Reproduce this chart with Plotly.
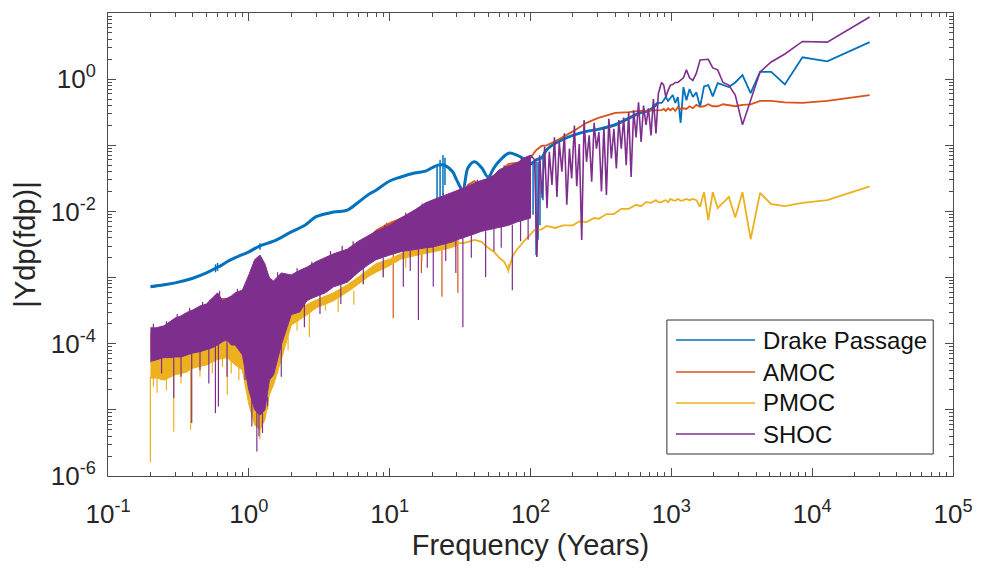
import numpy as np
import plotly.graph_objects as go

BLUE = "#0072BD"
ORANGE = "#D95319"
YELLOW = "#EDB120"
PURPLE = "#7E2F8E"

# ---------------------------------------------------------------------------
# Spectra: periods in years, amplitudes stored as log10 |Ydp(fdp)|
# ---------------------------------------------------------------------------

# Long-period harmonics (25600/k years, k = 30 ... 1)
harmonic_freq = [853, 883, 914, 948, 985, 1024, 1067, 1113, 1164, 1219, 1280, 1347,
                 1422, 1506, 1600, 1707, 1829, 1969, 2133, 2327, 2560, 2844, 3200,
                 3657, 4267, 5120, 6400, 8533, 12800, 25600]

# Drake Passage
drake_freq = [0.2, 0.25, 0.3, 0.4, 0.5, 0.58, 0.6, 0.62, 0.7, 0.8, 1.0, 1.2, 1.5, 2,
              2.5, 3, 4, 5, 6, 7, 8, 10, 12, 15, 18, 20, 22, 25, 28, 30, 33, 36, 40,
              45, 50, 55, 60, 70, 80, 90, 100, 110, 120, 130, 150, 170, 200, 250,
              300, 400, 500, 600, 700, 800]
drake_log = [-3.14, -3.11, -3.08, -3.01, -2.93, -2.86, -2.84, -2.83, -2.76, -2.70,
             -2.61, -2.52, -2.45, -2.31, -2.21, -2.08, -2.01, -1.98, -1.86, -1.75,
             -1.68, -1.54, -1.48, -1.42, -1.39, -1.34, -1.30, -1.31, -1.40, -1.53,
             -1.68, -1.34, -1.25, -1.34, -1.48, -1.34, -1.24, -1.12, -1.15, -1.21,
             -1.28, -1.22, -1.19, -1.07, -0.97, -0.91, -0.85, -0.79, -0.76, -0.69,
             -0.59, -0.51, -0.47, -0.36]
drake_harm_log = [-0.36, -0.32, -0.27, -0.33, -0.29, -0.24, -0.36, -0.27, -0.66, -0.12,
                  -0.32, -0.15, -0.27, -0.20, -0.42, -0.11, -0.09, -0.26, -0.06, -0.09,
                  -0.12, -0.05, 0.06, -0.21, 0.11, 0.11, -0.08, 0.33, 0.27, 0.56]
drake_spike_freq = [0.58, 0.6, 1.2, 21.7, 22.8, 23.9, 24.7, 104.3, 109.5, 113.1, 116.8, 122.7]
drake_spike_top = [-2.80, -2.78, -2.48, -1.30, -1.22, -1.15, -1.19, -1.25, -1.25, -1.25, -1.22, -1.19]
drake_spike_bot = [-2.92, -2.90, -2.58, -1.83, -1.87, -1.75, -1.60, -2.05, -2.66, -2.43, -2.21, -1.83]

# AMOC: dense band at short periods, single curve beyond 30 years
amoc_band_freq = [0.2, 0.3, 0.4, 0.5, 0.6, 0.8, 1.0, 1.2, 1.5, 2, 3, 4, 5, 6, 7, 8,
                  10, 12, 15, 20, 25, 30]
amoc_band_hi = [-3.84, -3.67, -3.55, -3.46, -3.32, -3.31, -3.11, -2.76, -3.11, -3.04,
                -2.84, -2.70, -2.63, -2.49, -2.40, -2.28, -2.17, -2.10, -2.02, -1.90,
                -1.86, -1.78]
amoc_band_lo = [-4.21, -4.15, -4.09, -4.05, -3.97, -3.97, -4.55, -4.92, -4.43, -3.52,
                -3.26, -3.11, -3.04, -2.89, -2.78, -2.70, -2.63, -2.58, -2.55, -2.51,
                -2.46, -2.40]
amoc_freq = [30, 33, 36, 40, 45, 50, 55, 60, 70, 80, 90, 100, 110, 120, 130, 150, 170,
             200, 250, 300, 400, 500, 600, 700, 800]
amoc_log = [-1.78, -1.75, -1.60, -1.54, -1.62, -1.63, -1.53, -1.40, -1.28, -1.27, -1.25,
            -1.19, -1.07, -1.01, -1.00, -0.94, -0.88, -0.79, -0.66, -0.59, -0.51, -0.50,
            -0.48, -0.48, -0.47]
amoc_harm_log = [-0.47, -0.45, -0.48, -0.44, -0.47, -0.44, -0.48, -0.42, -0.45, -0.44,
                 -0.45, -0.41, -0.44, -0.39, -0.42, -0.41, -0.38, -0.41, -0.41, -0.38,
                 -0.39, -0.41, -0.39, -0.38, -0.33, -0.33, -0.35, -0.36, -0.33, -0.24]
amoc_spike_freq = [9.5, 10.6, 16.8, 23.5, 30.5]
amoc_spike_top = [-2.17, -2.60, -2.50, -2.45, -2.40]
amoc_spike_bot = [-2.40, -3.61, -2.93, -3.29, -3.23]

# PMOC
pmoc_band_freq = [0.2, 0.22, 0.25, 0.3, 0.36, 0.4, 0.5, 0.6, 0.7, 0.8, 0.9, 1.0, 1.1,
                  1.2, 1.3, 1.4, 1.5, 1.7, 2, 2.3, 2.6, 3, 4, 5, 6, 7, 8, 10, 12, 15,
                  18, 20, 25, 30]
pmoc_band_hi = [-4.18, -4.17, -4.15, -4.12, -4.09, -4.05, -4.00, -3.94, -3.90, -3.94,
                -4.09, -4.62, -4.92, -5.00, -4.85, -4.47, -4.32, -3.97, -3.52, -3.46,
                -3.40, -3.34, -3.23, -3.11, -2.99, -2.89, -2.79, -2.72, -2.64, -2.57,
                -2.52, -2.51, -2.48, -2.43]
pmoc_band_lo = [-4.52, -4.52, -4.55, -4.47, -4.43, -4.37, -4.32, -4.24, -4.21, -4.32,
                -4.40, -4.92, -5.23, -5.30, -5.15, -4.77, -4.62, -4.24, -3.72, -3.64,
                -3.56, -3.46, -3.35, -3.22, -3.10, -2.99, -2.92, -2.82, -2.72, -2.67,
                -2.63, -2.61, -2.57, -2.52]
pmoc_freq = [30, 33, 36, 40, 45, 50, 55, 60, 65, 69.6, 75, 80, 90, 100, 107, 120, 130,
             150, 170, 200, 222, 250, 283, 306, 346, 391, 441, 498, 562, 610, 661, 717,
             778, 809]
pmoc_log = [-2.48, -2.48, -2.46, -2.43, -2.46, -2.55, -2.61, -2.70, -2.76, -2.89, -2.67,
            -2.58, -2.45, -2.34, -2.28, -2.27, -2.22, -2.25, -2.21, -2.21, -2.15, -2.16,
            -2.10, -2.11, -2.04, -2.04, -1.96, -1.96, -1.90, -1.92, -1.86, -1.87, -1.83,
            -1.86]
pmoc_harm_log = [-1.86, -1.84, -1.83, -1.86, -1.81, -1.83, -1.84, -1.81, -1.84, -1.83,
                 -1.81, -1.83, -1.81, -1.83, -1.93, -1.71, -2.13, -1.71, -1.95, -1.87,
                 -1.78, -2.09, -1.71, -2.42, -1.72, -1.89, -1.92, -1.87, -1.83, -1.62]
pmoc_spike_freq = [0.2, 0.21, 0.223, 0.26, 0.293, 0.33, 0.386, 0.45, 0.55, 0.65, 0.703,
                   0.75, 0.85, 1.2, 1.36, 1.6, 1.9, 2.2, 2.69, 3.5, 4.31, 5.57, 6.5, 9,
                   13, 17, 69.6]
pmoc_spike_top = [-4.50, -4.45, -4.50, -4.50, -4.50, -4.40, -4.40, -4.30, -4.20, -4.15,
                  -4.20, -4.20, -4.30, -5.20, -4.90, -4.20, -3.90, -3.60, -3.50, -3.35,
                  -3.30, -3.20, -2.95, -2.85, -2.70, -2.62, -2.80]
pmoc_spike_bot = [-5.79, -4.65, -4.74, -4.70, -5.33, -4.60, -5.30, -4.50, -4.45, -4.35,
                  -4.77, -4.45, -4.55, -5.45, -5.00, -4.45, -4.10, -3.80, -3.90, -3.50,
                  -3.52, -3.41, -3.10, -2.98, -2.85, -2.75, -2.93]

# SHOC
shoc_band_freq = [0.2, 0.22, 0.25, 0.28, 0.3, 0.33, 0.36, 0.4, 0.45, 0.5, 0.55, 0.6,
                  0.65, 0.7, 0.75, 0.8, 0.9, 1.0, 1.1, 1.2, 1.3, 1.4, 1.5, 1.7, 2, 2.3,
                  2.6, 3, 3.5, 4, 5, 6, 7, 8, 10, 12, 15, 18, 20, 22, 25, 28, 30, 33,
                  36, 40, 45, 50, 55, 60, 70, 80, 90, 100]
shoc_band_hi = [-3.76, -3.76, -3.73, -3.66, -3.61, -3.58, -3.53, -3.49, -3.43, -3.40,
                -3.31, -3.23, -3.35, -3.32, -3.28, -3.23, -3.19, -2.96, -2.73, -2.66,
                -2.79, -3.01, -3.05, -2.93, -2.96, -2.89, -2.84, -2.76, -2.70, -2.64,
                -2.57, -2.45, -2.37, -2.30, -2.21, -2.10, -1.98, -1.87, -1.83, -1.80,
                -1.75, -1.71, -1.68, -1.65, -1.62, -1.57, -1.53, -1.50, -1.45, -1.37,
                -1.31, -1.27, -1.19, -1.15]
shoc_band_lo = [-4.27, -4.24, -4.21, -4.21, -4.20, -4.20, -4.17, -4.14, -4.12, -4.09,
                -4.06, -4.02, -3.97, -3.94, -4.02, -4.02, -4.17, -4.70, -5.00, -5.08,
                -5.00, -4.55, -4.47, -4.02, -3.56, -3.52, -3.34, -3.29, -3.23, -3.14,
                -3.07, -2.92, -2.81, -2.73, -2.66, -2.61, -2.58, -2.55, -2.54, -2.52,
                -2.49, -2.46, -2.43, -2.40, -2.37, -2.34, -2.30, -2.27, -2.25, -2.24,
                -2.21, -2.16, -2.13, -2.10]
shoc_freq = [107, 111, 116, 121, 126, 131, 136, 142, 148, 154, 160, 167, 174, 181, 189,
             196, 205, 213, 222, 231, 240, 250, 261, 272, 283, 294, 306, 319, 332, 346,
             360, 375, 391, 407, 424, 441, 459, 478, 498, 518, 540, 562, 585, 610, 635,
             661, 688, 717, 746, 778, 809, 843]
shoc_log = [-1.22, -2.69, -1.15, -1.80, -1.02, -1.95, -1.10, -1.60, -0.88, -1.78,
            -0.95, -1.40, -0.82, -1.90, -1.05, -1.50, -0.70, -1.62, -0.98, -2.43,
            -0.62, -1.25, -0.85, -1.55, -0.66, -1.05, -0.80, -1.70, -0.72, -1.75,
            -0.60, -1.20, -0.75, -1.35, -0.62, -1.05, -0.58, -1.30, -0.50, -1.48,
            -0.47, -0.88, -0.35, -0.95, -0.40, -0.69, -0.44, -0.85, -0.30, -0.82,
            -0.22, -0.08]
shoc_harm_log = [-0.05, -0.09, -0.27, -0.17, -0.09, -0.08, -0.05, -0.05, -0.02, 0.02,
                 0.14, 0.02, -0.02, 0.09, 0.29, 0.29, 0.30, 0.17, 0.14, -0.05,
                 -0.09, -0.24, -0.69, -0.32, 0.11, 0.26, 0.38, 0.57, 0.56, 0.94]
shoc_spike_freq = [0.24, 0.293, 0.33, 0.393, 0.45, 0.52, 0.579, 0.608, 0.7, 0.94, 1.14,
                   1.36, 1.7, 2.48, 3.2, 4.5, 6.5, 9, 12.5, 14, 16.0, 18.5, 20.4, 25,
                   29.5, 33.1, 38, 48.0, 55, 62, 74.3, 85, 96.2,
                   0.21, 0.26, 0.31, 0.38, 0.47, 0.53, 0.62, 0.83, 1.6, 2.2, 2.8, 3.8,
                   4.6, 5.5, 9.2, 13, 17, 24, 32, 42, 52, 65, 86,
                   1.05, 1.18, 1.25]
shoc_spike_top = [-4.20, -4.10, -4.10, -4.10, -4.10, -4.00, -4.00, -4.00, -3.90, -4.20,
                  -4.80, -4.80, -4.00, -3.30, -3.20, -3.10, -2.80, -2.70, -2.55, -2.60,
                  -2.55, -2.50, -2.50, -2.45, -2.40, -2.35, -2.35, -2.30, -2.25, -2.20,
                  -2.20, -2.10, -2.10,
                  -3.70, -3.66, -3.55, -3.46, -3.37, -3.33, -3.20, -3.17, -2.92, -2.86,
                  -2.76, -2.60, -2.52, -2.45, -2.20, -2.02, -1.88, -1.72, -1.62, -1.52,
                  -1.44, -1.30, -1.18,
                  -4.70, -4.95, -4.95]
shoc_spike_bot = [-4.45, -4.82, -4.50, -5.20, -4.40, -4.60, -5.05, -4.95, -4.50, -4.55,
                  -5.63, -4.95, -4.50, -3.75, -3.55, -3.40, -3.10, -3.00, -3.14, -2.90,
                  -3.64, -2.85, -3.14, -2.75, -2.93, -3.75, -2.70, -2.99, -2.60, -2.55,
                  -3.19, -2.45, -2.43,
                  -3.85, -3.80, -3.70, -3.60, -3.50, -3.45, -3.35, -3.30, -3.10, -3.00,
                  -2.90, -2.75, -2.65, -2.60, -2.30, -2.15, -2.00, -1.85, -1.75, -1.65,
                  -1.55, -1.42, -1.30,
                  -5.25, -5.40, -5.35]

# Axis tick labels
x_tick_vals = [0.1, 1, 10, 100, 1e3, 1e4, 1e5]
x_tick_text = ["10<sup>-1</sup>", "10<sup>0</sup>", "10<sup>1</sup>", "10<sup>2</sup>",
               "10<sup>3</sup>", "10<sup>4</sup>", "10<sup>5</sup>"]
y_label_vals = [1e-6, 1e-4, 1e-2, 1]
y_label_text = ["10<sup>-6</sup>", "10<sup>-4</sup>", "10<sup>-2</sup>", "10<sup>0</sup>"]
y_odd_decades = [1e-5, 1e-3, 1e-1, 10]

legend_names = ["Drake Passage", "AMOC", "PMOC", "SHOC"]
legend_colors = [BLUE, ORANGE, YELLOW, PURPLE]


def amp(logs):
    return [10.0 ** v for v in logs]


def band_trace(freq, hi, lo, color):
    xs = list(freq) + list(freq[::-1])
    ys = amp(hi) + amp(lo[::-1])
    return go.Scatter(x=xs, y=ys, mode="lines", fill="toself", fillcolor=color,
                      line=dict(color=color, width=1), hoverinfo="skip",
                      showlegend=False)


def spike_trace(freq, top, bot, color, width=1.2):
    xs, ys = [], []
    for f, t, b in zip(freq, top, bot):
        xs += [f, f, None]
        ys += [10.0 ** t, 10.0 ** b, None]
    return go.Scatter(x=xs, y=ys, mode="lines", line=dict(color=color, width=width),
                      hoverinfo="skip", showlegend=False)


def line_trace(freq, logs, color, width, shape="linear"):
    return go.Scatter(x=freq, y=amp(logs), mode="lines",
                      line=dict(color=color, width=width, shape=shape),
                      showlegend=False)


fig = go.Figure()

# Drake Passage
fig.add_trace(line_trace(drake_freq, drake_log, BLUE, 3.0, "spline"))
fig.add_trace(spike_trace(drake_spike_freq, drake_spike_top, drake_spike_bot, BLUE, 1.5))
fig.add_trace(line_trace([drake_freq[-1]] + harmonic_freq,
                         [drake_log[-1]] + drake_harm_log, BLUE, 1.8))

# AMOC
fig.add_trace(band_trace(amoc_band_freq, amoc_band_hi, amoc_band_lo, ORANGE))
fig.add_trace(spike_trace(amoc_spike_freq, amoc_spike_top, amoc_spike_bot, ORANGE))
fig.add_trace(line_trace(amoc_freq + harmonic_freq, amoc_log + amoc_harm_log,
                         ORANGE, 1.8))

# PMOC
fig.add_trace(band_trace(pmoc_band_freq, pmoc_band_hi, pmoc_band_lo, YELLOW))
fig.add_trace(spike_trace(pmoc_spike_freq, pmoc_spike_top, pmoc_spike_bot, YELLOW))
fig.add_trace(line_trace(pmoc_freq + harmonic_freq, pmoc_log + pmoc_harm_log,
                         YELLOW, 1.8))

# SHOC
fig.add_trace(band_trace(shoc_band_freq, shoc_band_hi, shoc_band_lo, PURPLE))
fig.add_trace(spike_trace(shoc_spike_freq, shoc_spike_top, shoc_spike_bot, PURPLE))
fig.add_trace(line_trace([shoc_band_freq[-1]] + shoc_freq + harmonic_freq,
                         [shoc_band_hi[-1]] + shoc_log + shoc_harm_log,
                         PURPLE, 1.6))

AXIS_GREY = "#4d4d4d"
axis_common = dict(
    type="log", showgrid=False, zeroline=False, showline=True,
    linecolor=AXIS_GREY, linewidth=1, mirror="ticks",
    ticks="inside", ticklen=8, tickcolor=AXIS_GREY, tickwidth=1,
    minor=dict(ticks="inside", ticklen=4, tickcolor=AXIS_GREY, dtick="D1",
               showgrid=False),
    tickfont=dict(size=26, color="#262626"),
)

fig.update_layout(
    width=985, height=570,
    margin=dict(l=108, r=23, t=13, b=94),
    paper_bgcolor="white", plot_bgcolor="white",
    font=dict(family="Liberation Sans, Arial, sans-serif", color="#262626"),
    xaxis=dict(range=[-1, 5], tickmode="array", tickvals=x_tick_vals,
               ticktext=x_tick_text, ticklabelstandoff=15,
               title=dict(text="Frequency (Years)", font=dict(size=29), standoff=6),
               **axis_common),
    yaxis=dict(range=[-6, 1], tickmode="array", tickvals=y_label_vals,
               ticktext=y_label_text, ticklabelstandoff=6,
               title=dict(text="|Ydp(fdp)|", font=dict(size=29), standoff=6),
               **axis_common),
    # unlabeled major ticks at the odd decades
    yaxis2=dict(type="log", range=[-6, 1], overlaying="y", side="left",
                tickmode="array", tickvals=y_odd_decades, showticklabels=False,
                ticks="inside", ticklen=8, tickcolor=AXIS_GREY, mirror="ticks",
                showline=False, showgrid=False, zeroline=False),
    showlegend=False,
)
# empty trace that attaches the overlay axis
fig.add_trace(go.Scatter(x=[None], y=[None], yaxis="y2", showlegend=False,
                         hoverinfo="skip"))

# Legend box drawn in plot-area fractions
box_x0, box_x1, box_y0, box_y1 = 0.6614, 0.9766, 0.0475, 0.3369
fig.add_shape(type="rect", xref="paper", yref="paper", x0=box_x0, x1=box_x1,
              y0=box_y0, y1=box_y1, line=dict(color="#333333", width=1),
              fillcolor="white", layer="above")
row_y = [0.2937, 0.2246, 0.1577, 0.0907]
for name, color, yy in zip(legend_names, legend_colors, row_y):
    fig.add_shape(type="line", xref="paper", yref="paper", x0=0.672, x1=0.7657,
                  y0=yy, y1=yy, line=dict(color=color, width=1.6), layer="above")
    fig.add_annotation(text=name, xref="paper", yref="paper", x=0.7727, y=yy,
                       xanchor="left", yanchor="middle", showarrow=False,
                       font=dict(size=24, color="#111111"))

fig.write_html("out.html")
